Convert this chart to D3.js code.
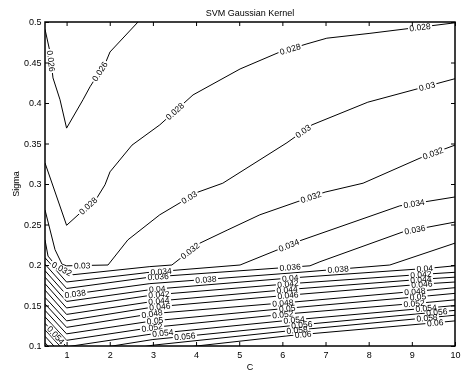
<!DOCTYPE html>
<html>
<head>
<meta charset="utf-8">
<script src="https://cdn.jsdelivr.net/npm/d3@7"></script>
<style>
  body { margin: 0; background: #fff; }
  svg { display: block; will-change: transform; }
  text { font-family: "Liberation Sans", Arial, Helvetica, sans-serif; fill: #000; }
</style>
</head>
<body>
<div id="chart"></div>
<script>
// contour lines of the SVM error surface, traced as [C, sigma] points
const levels = [0.026, 0.028, 0.03, 0.032, 0.034, 0.036, 0.038, 0.04,
  0.042, 0.044, 0.046, 0.048, 0.05, 0.052, 0.054, 0.056, 0.058, 0.06];

const c026 = [[0.5, 0.491], [0.616, 0.463], [0.685, 0.431], [0.848, 0.404], [1, 0.369],
  [1.38, 0.404], [1.543, 0.420], [1.913, 0.451], [2.006, 0.463], [2.655, 0.5]];
const c028 = [[0.5, 0.326], [1, 0.249], [1.705, 0.283], [1.89, 0.299], [2.006, 0.315],
  [2.516, 0.348], [3.16, 0.373], [3.93, 0.410], [5.02, 0.442], [5.9, 0.462],
  [6.57, 0.473], [7.03, 0.480], [8.03, 0.486], [10, 0.499]];
const c030 = [[0.5, 0.268], [0.732, 0.219], [0.894, 0.201], [1, 0.199], [1.96, 0.200],
  [2.42, 0.231], [3.16, 0.262], [4.045, 0.290], [4.62, 0.301], [6.107, 0.351],
  [6.686, 0.373], [7.98, 0.401], [10, 0.430]];
const c032 = [[0.5, 0.231], [0.57, 0.211], [0.755, 0.199], [1.149, 0.188], [2.93, 0.198],
  [3.44, 0.200], [4.09, 0.227], [4.72, 0.243], [5.48, 0.262], [6.34, 0.278],
  [6.99, 0.290], [7.87, 0.301], [9.19, 0.332], [10, 0.348]];
const c034 = [[0.5, 0.209], [1, 0.179], [2.93, 0.191], [5.02, 0.200], [6.41, 0.230],
  [8.72, 0.273], [10, 0.284]];
const c036 = [[0.5, 0.201], [1, 0.171], [2.93, 0.185], [6.64, 0.199], [6.87, 0.204],
  [8.8, 0.241], [10, 0.253]];
const c038 = [[0.5, 0.193], [1, 0.163], [2.93, 0.177], [6.18, 0.190], [8.49, 0.200],
  [10, 0.227]];
const c040 = [[0.5, 0.185], [1, 0.155], [3, 0.170], [6.2, 0.184], [9.4, 0.196], [10, 0.199]];
const c042 = [[0.5, 0.177], [1, 0.147], [3, 0.163], [6.2, 0.177], [9.4, 0.189], [10, 0.191]];
const c044 = [[0.5, 0.169], [1, 0.139], [3, 0.155], [6.2, 0.170], [9.4, 0.183], [10, 0.185]];
const c046 = [[0.5, 0.160], [1, 0.131], [3, 0.148], [6.2, 0.163], [9.4, 0.177], [10, 0.179]];
const c048 = [[0.5, 0.152], [1, 0.123], [3, 0.140], [6.2, 0.154], [9.4, 0.169], [10, 0.172]];
const c050 = [[0.5, 0.144], [1, 0.115], [3, 0.131], [6.2, 0.147], [9.4, 0.162], [10, 0.165]];
const c052 = [[0.5, 0.136], [1, 0.107], [3, 0.123], [6.2, 0.140], [9.4, 0.154], [10, 0.157]];
const c054 = [[0.5, 0.128], [1, 0.099], [3, 0.115], [6.2, 0.132], [9.4, 0.147], [10, 0.150]];
const c056 = [[0.5, 0.120], [1, 0.091], [3, 0.108], [6.2, 0.125], [9.4, 0.141], [10, 0.144]];
const c058 = [[0.5, 0.112], [1, 0.083], [3, 0.101], [6.2, 0.119], [9.4, 0.135], [10, 0.138]];
const c060 = [[0.5, 0.104], [1, 0.075], [3, 0.094], [6.2, 0.113], [9.4, 0.128], [10, 0.131]];

const lineData = [c026, c028, c030, c032, c034, c036, c038, c040, c042,
  c044, c046, c048, c050, c052, c054, c056, c058, c060];

// inline labels: [level, C where the label sits]
const labelSpots = [
  [0.026, 0.64], [0.026, 1.77],
  [0.028, 1.5], [0.028, 3.51], [0.028, 6.18], [0.028, 9.19],
  [0.03, 1.36], [0.03, 3.84], [0.03, 6.48], [0.03, 9.35],
  [0.032, 0.89], [0.032, 3.86], [0.032, 6.66], [0.032, 9.49],
  [0.034, 3.19], [0.034, 6.15], [0.034, 9.05],
  [0.036, 3.12], [0.036, 6.18], [0.036, 9.07],
  [0.038, 1.2], [0.038, 4.23], [0.038, 7.29],
  [0.04, 3.1], [0.04, 6.18], [0.04, 9.3],
  [0.042, 3.14], [0.042, 6.13], [0.042, 9.21],
  [0.044, 3.14], [0.044, 6.11], [0.044, 9.21],
  [0.046, 3.16], [0.046, 6.13], [0.046, 9.23],
  [0.048, 2.98], [0.048, 6.01], [0.048, 9.07],
  [0.05, 3.05], [0.05, 6.11], [0.05, 9.14],
  [0.052, 2.98], [0.052, 6.01], [0.052, 9.05],
  [0.054, 0.75], [0.054, 3.23], [0.054, 6.27], [0.054, 9.33],
  [0.056, 3.74], [0.056, 6.45], [0.056, 9.58],
  [0.058, 6.34], [0.058, 9.35],
  [0.06, 6.48], [0.06, 9.54]
];

const xTicks = [1, 2, 3, 4, 5, 6, 7, 8, 9, 10];
const yTicks = [0.1, 0.15, 0.2, 0.25, 0.3, 0.35, 0.4, 0.45, 0.5];

const svgWidth = 462;
const svgHeight = 374;
const plotL = 45, plotR = 455, plotT = 22, plotB = 346;

const svg = d3.select('#chart')
  .append('svg')
  .attr('width', svgWidth)
  .attr('height', svgHeight);

const x = d3.scaleLinear().domain([0.5, 10]).range([plotL, plotR]);
const y = d3.scaleLinear().domain([0.1, 0.5]).range([plotB, plotT]);

const defs = svg.append('defs');
defs.append('clipPath').attr('id', 'plot-clip')
  .append('rect')
  .attr('x', plotL).attr('y', plotT)
  .attr('width', plotR - plotL).attr('height', plotB - plotT);

const gapMask = defs.append('mask')
  .attr('id', 'label-gaps')
  .attr('maskUnits', 'userSpaceOnUse')
  .attr('x', 0).attr('y', 0).attr('width', svgWidth).attr('height', svgHeight);
gapMask.append('rect')
  .attr('width', svgWidth).attr('height', svgHeight)
  .attr('fill', 'white');

const line = d3.line()
  .x(function (d) { return x(d[0]); })
  .y(function (d) { return y(d[1]); });

// contour lines
svg.append('g')
  .attr('clip-path', 'url(#plot-clip)')
  .append('g')
  .attr('mask', 'url(#label-gaps)')
  .selectAll('path')
  .data(lineData)
  .enter()
  .append('path')
  .attr('d', line)
  .attr('fill', 'none')
  .attr('stroke', '#000')
  .attr('stroke-width', 1);

// find the point (and the slope) of a traced line at a given C
function spotOn(pts, c) {
  const px = x(c);
  const p = pts.map(function (d) { return [x(d[0]), y(d[1])]; });
  for (let i = 1; i < p.length; i++) {
    const a = p[i - 1], b = p[i];
    const lo = Math.min(a[0], b[0]), hi = Math.max(a[0], b[0]);
    if (hi > lo && px >= lo && px <= hi) {
      const t = (px - a[0]) / (b[0] - a[0]);
      let ang = Math.atan2(b[1] - a[1], b[0] - a[0]) * 180 / Math.PI;
      if (ang > 90) ang -= 180;
      if (ang < -90) ang += 180;
      return { x: px, y: a[1] + t * (b[1] - a[1]), a: ang };
    }
  }
  return null;
}

const labelG = svg.append('g');
labelSpots.forEach(function (s) {
  const pts = lineData[levels.indexOf(s[0])];
  const p = spotOn(pts, s[1]);
  if (!p) return;
  const tr = 'translate(' + p.x + ',' + p.y + ') rotate(' + p.a + ')';
  const t = labelG.append('text')
    .attr('transform', tr)
    .attr('text-anchor', 'middle')
    .attr('dy', '0.35em')
    .style('font-size', '8.5px')
    .text(String(s[0]));
  const w = t.node().getComputedTextLength() + 3;
  gapMask.append('rect')
    .attr('transform', tr)
    .attr('x', -w / 2).attr('y', -4)
    .attr('width', w).attr('height', 8)
    .attr('fill', 'black');
});

// axes, MATLAB style: ticks inside on all four sides
const fmt = function (d) { return String(+d.toFixed(2)); };

svg.append('g')
  .attr('transform', 'translate(0,' + plotB + ')')
  .call(d3.axisBottom(x).tickValues(xTicks).tickSizeInner(-4).tickSizeOuter(0).tickPadding(6))
  .call(function (g) { g.select('.domain').remove(); });

svg.append('g')
  .attr('transform', 'translate(0,' + plotT + ')')
  .call(d3.axisTop(x).tickValues(xTicks).tickSizeInner(-4).tickSizeOuter(0).tickFormat(''))
  .call(function (g) { g.select('.domain').remove(); });

svg.append('g')
  .attr('transform', 'translate(' + plotL + ',0)')
  .call(d3.axisLeft(y).tickValues(yTicks).tickFormat(fmt).tickSizeInner(-4).tickSizeOuter(0).tickPadding(3.5))
  .call(function (g) { g.select('.domain').remove(); });

svg.append('g')
  .attr('transform', 'translate(' + plotR + ',0)')
  .call(d3.axisRight(y).tickValues(yTicks).tickSizeInner(-4).tickSizeOuter(0).tickFormat(''))
  .call(function (g) { g.select('.domain').remove(); });

svg.selectAll('.tick text')
  .style('font-size', '9px')
  .style('font-family', '"Liberation Sans", Arial, sans-serif')
  .attr('fill', '#000');
svg.selectAll('.tick line').attr('stroke', '#000');

svg.append('rect')
  .attr('x', plotL).attr('y', plotT)
  .attr('width', plotR - plotL).attr('height', plotB - plotT)
  .attr('fill', 'none')
  .attr('stroke', '#000')
  .attr('stroke-width', 1.5);

// titles
svg.append('text')
  .attr('x', (plotL + plotR) / 2)
  .attr('y', 16)
  .attr('text-anchor', 'middle')
  .style('font-size', '9px')
  .text('SVM Gaussian Kernel');

svg.append('text')
  .attr('x', (plotL + plotR) / 2)
  .attr('y', 369.5)
  .attr('text-anchor', 'middle')
  .style('font-size', '9px')
  .text('C');

svg.append('text')
  .attr('transform', 'translate(19,184) rotate(-90)')
  .attr('text-anchor', 'middle')
  .style('font-size', '9px')
  .text('Sigma');
</script>
</body>
</html>
